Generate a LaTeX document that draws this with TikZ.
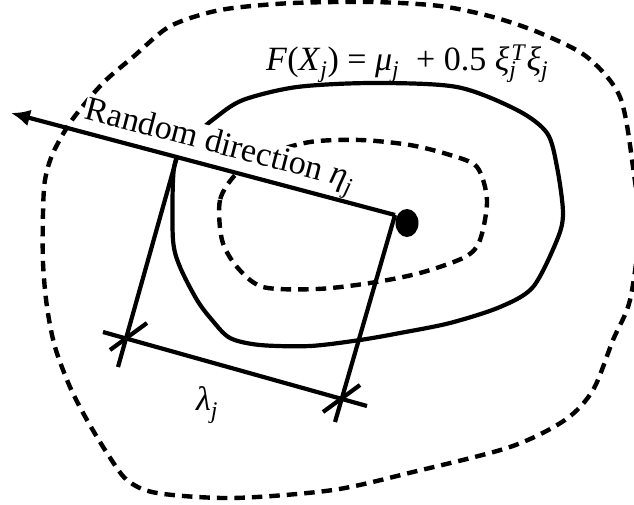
\documentclass[tikz,border=0pt]{standalone}
\usepackage{fontspec}
\setmainfont{Liberation Serif}
\usetikzlibrary{arrows.meta}
\begin{document}
\begin{tikzpicture}[x=1pt,y=-1pt,
  contour/.style={line width=4.2pt, line join=round},
  dashcontour/.style={line width=4.4pt, dash pattern=on 10.5pt off 7pt},
  measure/.style={line width=4.2pt},
  lbl/.style={font=\fontsize{34}{36}\selectfont, inner sep=0pt}]
\useasboundingbox (0,0) rectangle (634,504);
% outer dashed contour
\draw[dashcontour] plot[smooth cycle] coordinates {
 (233,8) (293,3) (373,2) (440,6) (493,17) (540,33) (587,57) (620,97)
 (633,167) (639,230) (630,300) (613,340) (593,390) (565,420) (510,447)
 (413,472) (333,490) (233,498) (157,493) (127,480) (107,453) (87,420)
 (70,387) (55,347) (47,307) (43,263) (43,213) (45,180) (53,153) (72,120)
 (103,83) (133,57) (167,28) (200,15)};
% solid contour
\draw[contour] plot[smooth cycle] coordinates {
 (177,157) (173,180) (173,240) (180,267) (197,300) (212,320) (230,338)
 (260,345) (310,346) (360,340) (400,333) (450,323) (500,307) (533,287)
 (557,240) (563,213) (557,167) (547,133) (517,110) (457,87) (373,83)
 (297,87) (243,100) (215,118) (192,138)};
% inner dashed contour
\draw[dashcontour] plot[smooth cycle] coordinates {
 (237,173) (220,200) (222,240) (237,267) (263,287) (317,289) (370,283)
 (420,273) (465,257) (480,240) (487,200) (477,167) (450,155) (410,145)
 (360,140) (310,142) (265,155)};
% label along the direction (white background hides contour pieces)
\node[lbl, fill=white, inner sep=1.5pt, anchor=base west, rotate=-14.7] (dirlabel)
  at (82,118) {Random direction \textit{η}\textsubscript{\textit{j}}};
% points
\coordinate (A) at (177,157);
\coordinate (B) at (395,215);
\coordinate (tip) at (11,113);
\coordinate (Ab) at (118,367);
\coordinate (Bb) at (335,422);
\coordinate (D1) at (103,332);
\coordinate (D2) at (367,406);
\coordinate (T1a) at (110,350);
\coordinate (T1b) at (147,323);
\coordinate (T2a) at (323,412);
\coordinate (T2b) at (360,385);
% direction arrow
\draw[measure, -{Latex[length=19pt,width=17pt]}] (B) -- (tip);
% dimension construction
\draw[measure] (A) -- (Ab);
\draw[measure] (B) -- (Bb);
\draw[measure] (D1) -- (D2);
\draw[measure] (T1a) -- (T1b);
\draw[measure] (T2a) -- (T2b);
% current point
\fill (407,223) ellipse [x radius=11.5pt, y radius=14pt];
% labels
\node[lbl, anchor=base west] (flabel) at (266,70)
  {\textit{F}(\textit{X}\textsubscript{\textit{j}}) = \textit{μ}\textsubscript{\textit{j}}\ \ + 0.5 \textit{ξ}\textsubscript{\textit{j}}\kern-0.15em\textsuperscript{\textit{T}}\textit{ξ}\textsubscript{\textit{j}}};
\node[lbl, anchor=center] (lamlabel) at (207,405) {\textit{λ}\textsubscript{\textit{j}}};
\end{tikzpicture}
\end{document}
